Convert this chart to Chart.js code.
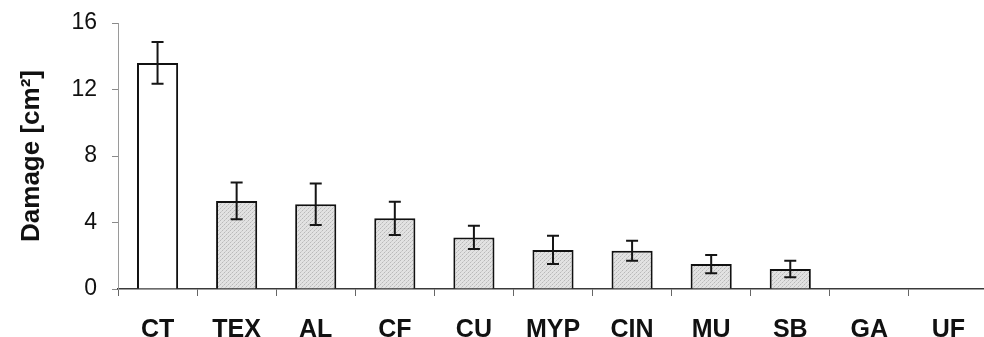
<!DOCTYPE html>
<html>
<head>
<meta charset="utf-8">
<script src="https://cdn.jsdelivr.net/npm/chart.js@4/dist/chart.umd.min.js"></script>
<style>
  html, body { margin: 0; padding: 0; background: #ffffff; overflow: hidden; }
  #wrap { width: 988px; height: 337px; }
</style>
</head>
<body>
<div id="wrap"><canvas id="chart" width="988" height="337"></canvas></div>
<script>
// Mean leaf damage per treatment, with standard errors
const categories = ['CT', 'TEX', 'AL', 'CF', 'CU', 'MYP', 'CIN', 'MU', 'SB', 'GA', 'UF'];
const damage     = [13.6, 5.3, 5.1, 4.25, 3.1, 2.35, 2.3, 1.5, 1.2, 0, 0];
const damageErr  = [1.25, 1.1, 1.25, 1.0, 0.7, 0.85, 0.6, 0.55, 0.5, 0, 0];
const yTicks     = [0, 4, 8, 12, 16];

// Stippled grey fill used for the treatment bars
function stipple() {
  const c = document.createElement('canvas');
  c.width = 4; c.height = 4;
  const g = c.getContext('2d');
  g.fillStyle = '#e2e2e2';
  g.fillRect(0, 0, 4, 4);
  g.fillStyle = '#b9b9b9';
  g.fillRect(0, 0, 1, 1);
  g.fillRect(2, 2, 1, 1);
  g.fillStyle = '#cdcdcd';
  g.fillRect(3, 1, 1, 1);
  g.fillRect(1, 3, 1, 1);
  return g.createPattern(c, 'repeat');
}
const grey = stipple();
const fills = categories.map((c, i) => i === 0 ? '#ffffff' : grey);

// Draws symmetric error bars on top of each bar
const errorBars = {
  id: 'errorBars',
  afterDatasetsDraw(chart) {
    const meta = chart.getDatasetMeta(0);
    const y = chart.scales.y;
    const ctx = chart.ctx;
    ctx.save();
    ctx.strokeStyle = '#151515';
    ctx.lineWidth = 2;
    meta.data.forEach((bar, i) => {
      const e = damageErr[i];
      if (!e) return;
      const top = y.getPixelForValue(damage[i] + e);
      const bot = y.getPixelForValue(damage[i] - e);
      const x = bar.x, cap = 6;
      ctx.beginPath();
      ctx.moveTo(x, top); ctx.lineTo(x, bot);
      ctx.moveTo(x - cap, top); ctx.lineTo(x + cap, top);
      ctx.moveTo(x - cap, bot); ctx.lineTo(x + cap, bot);
      ctx.stroke();
    });
    ctx.restore();
  }
};

new Chart(document.getElementById('chart'), {
  type: 'bar',
  data: {
    labels: categories,
    datasets: [{
      data: damage,
      backgroundColor: fills,
      borderColor: '#111111',
      borderWidth: 2,
      borderSkipped: 'bottom',
      barPercentage: 0.52,
      categoryPercentage: 1.0
    }]
  },
  options: {
    responsive: false,
    animation: false,
    devicePixelRatio: 1,
    layout: { padding: { top: 23, right: 0, bottom: 0, left: 0 } },
    plugins: { legend: { display: false }, tooltip: { enabled: false } },
    scales: {
      x: {
        afterFit(scale) { scale.height = 48; },
        grid: {
          offset: true,
          drawOnChartArea: false,
          drawTicks: true,
          tickLength: 7,
          color: '#666666'
        },
        border: { display: true, color: '#3a3a3a', width: 1.5 },
        ticks: {
          color: '#111111',
          padding: 19,
          maxRotation: 0,
          font: { family: 'Liberation Sans, Arial, sans-serif', size: 25, weight: 'bold' }
        }
      },
      y: {
        min: 0,
        max: 16,
        afterFit(scale) {
          scale.width = 118;
          // keep the top of the value axis clear of tick label padding
          scale.paddingTop = 0;
          scale.paddingBottom = 0;
        },
        afterBuildTicks(scale) { scale.ticks = yTicks.map(v => ({ value: v })); },
        grid: {
          drawOnChartArea: false,
          drawTicks: true,
          tickLength: 6,
          color: '#8a8a8a'
        },
        border: { display: true, color: '#9a9a9a', width: 1 },
        ticks: {
          color: '#111111',
          padding: 15,
          font: { family: 'Liberation Sans, Arial, sans-serif', size: 23 }
        },
        title: {
          display: true,
          text: 'Damage [cm²]',
          color: '#111111',
          padding: { top: 16, bottom: 0 },
          font: { family: 'Liberation Sans, Arial, sans-serif', size: 26, weight: 'bold' }
        }
      }
    }
  },
  plugins: [errorBars]
});
</script>
</body>
</html>
